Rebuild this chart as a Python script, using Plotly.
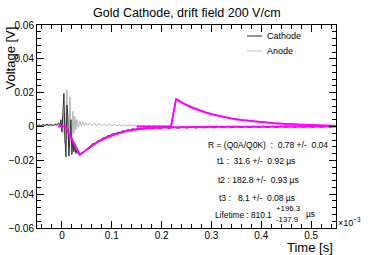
import plotly.graph_objects as go

# ---------------- data (time in units of 1e-3 s, voltage in V) ----------------
cathode_t = [-0.050,-0.046,-0.042,-0.038,-0.034,-0.030,-0.026,-0.022,-0.018,-0.014,-0.010,-0.007,-0.004,-0.002,
             0.000,0.002,0.004,0.006,0.008,0.010,0.012,0.014,0.016,0.018,0.020,0.022,0.024,0.026,0.028,0.030,
             0.033,0.036,0.040,0.044,0.048,0.052,0.057,0.062,0.067,0.072,0.077,0.082,0.087,0.092,0.097,0.102,
             0.107,0.112,0.117,0.122,0.127,0.132,0.137,0.142,0.147,0.152,0.161,0.170,0.179,0.188,0.197,0.206,
             0.215,0.224,0.233,0.242,0.251,0.260,0.269,0.278,0.287,0.296,0.305,0.314,0.323,0.332,0.341,0.350,
             0.359,0.368,0.377,0.386,0.395,0.404,0.413,0.422,0.431,0.440,0.449,0.458,0.467,0.476,0.485,0.494,
             0.503,0.512,0.521,0.530,0.539,0.548]
cathode_v = [0.0004,0.0010,0.0002,0.0012,0.0005,0.0014,0.0006,0.0013,0.0004,0.0016,0.0008,0.0022,0.0006,0.0040,
             -0.0030,0.0120,0.0196,-0.0060,-0.0180,0.0127,0.0060,-0.0175,-0.0020,0.0040,-0.0165,-0.0080,-0.0150,-0.0100,-0.0160,-0.0140,
             -0.0165,-0.0160,-0.0158,-0.0150,-0.0138,-0.0128,-0.0118,-0.0102,-0.0098,-0.0085,-0.0080,-0.0068,-0.0065,-0.0054,-0.0052,-0.0043,
             -0.0042,-0.0034,-0.0035,-0.0026,-0.0028,-0.0019,-0.0022,-0.0013,-0.0017,-0.0009,-0.0016,-0.0006,-0.0014,-0.0004,-0.0013,-0.0003,
             -0.0012,-0.0002,-0.0011,-0.0002,-0.0010,-0.0001,-0.0010,-0.0001,-0.0009,0.0000,-0.0009,0.0000,-0.0008,0.0001,-0.0008,0.0001,
             -0.0007,0.0001,-0.0007,0.0002,-0.0006,0.0002,-0.0006,0.0002,-0.0006,0.0002,-0.0005,0.0002,-0.0005,0.0002,-0.0005,0.0002,
             -0.0005,0.0002,-0.0005,0.0002,-0.0004,0.0002]

anode_t = [-0.050,-0.046,-0.042,-0.038,-0.034,-0.030,-0.026,-0.022,-0.018,-0.014,-0.010,-0.007,-0.004,-0.002,
           0.000,0.002,0.004,0.006,0.008,0.010,0.012,0.014,0.016,0.018,0.020,0.022,0.024,0.026,0.028,0.030,
           0.033,0.036,0.039,0.042,0.045,0.048,0.052,0.056,0.060,0.065,0.070,0.075,0.080,0.085,0.090,0.095,
           0.100,0.105,0.110,0.115,0.120,0.125,0.130,0.135,0.140,0.145,0.150,0.155,0.160,0.165,0.170,0.175,
           0.180,0.185,0.190,0.195,0.200,0.205,0.210,0.215,0.219,0.229,0.240,0.250,0.262,0.275,0.290,0.305,
           0.320,0.340,0.360,0.380,0.400,0.425,0.450,0.475,0.500,0.525,0.550]
anode_v = [0.0006,0.0002,0.0009,0.0003,0.0010,0.0004,0.0011,0.0005,0.0012,0.0004,0.0013,0.0006,0.0016,0.0004,
           0.0030,-0.0040,0.0080,-0.0100,0.0060,0.0216,-0.0060,-0.0120,0.0176,0.0040,-0.0100,0.0090,-0.0040,0.0060,-0.0020,0.0040,
           -0.0005,0.0030,0.0002,0.0025,0.0005,0.0022,0.0006,0.0020,0.0006,0.0018,0.0005,0.0016,0.0005,0.0015,0.0004,0.0014,
           0.0004,0.0013,0.0003,0.0012,0.0003,0.0011,0.0002,0.0010,0.0002,0.0010,0.0001,0.0009,0.0001,0.0008,0.0000,0.0008,
           0.0000,0.0007,0.0000,0.0007,0.0000,0.0006,0.0000,0.0005,0.0000,0.0168,0.0145,0.0130,0.0114,0.0099,0.0084,0.0071,
           0.0060,0.0049,0.0040,0.0033,0.0027,0.0021,0.0016,0.0012,0.0009,0.0007,0.0005]

cathode_fit_t = [-0.008,0.007,0.036,0.050,0.060,0.073,0.090,0.106,0.126,0.146,0.170,0.200,0.250,0.300,0.400,0.550]
cathode_fit_v = [0.0,0.0,-0.0167,-0.0135,-0.0115,-0.0090,-0.0065,-0.0048,-0.0030,-0.0019,-0.0011,-0.0006,-0.0003,-0.0002,-0.0001,0.0]

anode_fit_t = [0.150,0.219,0.229,0.240,0.250,0.262,0.275,0.290,0.305,0.320,0.340,0.360,0.380,0.400,0.425,0.450,0.475,0.500,0.525,0.550]
anode_fit_v = [0.0,0.0,0.0161,0.0142,0.0127,0.0111,0.0096,0.0081,0.0069,0.0058,0.0047,0.0038,0.0031,0.0025,0.0019,0.0015,0.0011,0.0008,0.0006,0.0004]

x_ticks = [0, 0.1, 0.2, 0.3, 0.4, 0.5]
y_ticks = [-0.06, -0.04, -0.02, 0, 0.02, 0.04, 0.06]

fit_lines = ["R = (Q0A/Q0K)  :  0.78 +/-  0.04",
             "t1 :  31.6 +/-  0.92 µs",
             "t2 : 182.8 +/-  0.93 µs",
             "t3 :   8.1 +/-  0.08 µs"]

FONT = "Liberation Sans, Arial, sans-serif"

fig = go.Figure()
fig.add_trace(go.Scatter(x=anode_t, y=anode_v, mode="lines", line=dict(color="#b4b4b4", width=1), name="Anode"))
fig.add_trace(go.Scatter(x=cathode_t, y=cathode_v, mode="lines", line=dict(color="#303030", width=1), name="Cathode"))
fig.add_trace(go.Scatter(x=cathode_fit_t, y=cathode_fit_v, mode="lines", line=dict(color="#ff00ff", width=2), name="fitK"))
fig.add_trace(go.Scatter(x=anode_fit_t, y=anode_fit_v, mode="lines", line=dict(color="#ff00ff", width=2), name="fitA"))

W, H = 374, 255
L, R, T, B = 37, 38, 25, 27
pw, ph = W - L - R, H - T - B

def px(x):
    return (x - L) / pw

def py(y):
    return (H - B - y) / ph

def note(text, x, y, size, xanchor="center", yanchor="middle", **kw):
    d = dict(text=text, x=px(x), y=py(y), xref="paper", yref="paper", showarrow=False,
             font=dict(size=size, color="black", family=FONT), xanchor=xanchor, yanchor=yanchor)
    d.update(kw)
    return d

ann = [
    note("Gold Cathode, drift field 200 V/cm", 187, 13, 12.5),
    note("Voltage [V]", 10, 25, 13, yanchor="top", textangle=-90),
    note("Time [s]", 335, 247.5, 13, xanchor="right"),
    note("×10<sup>−3</sup>", 336, 222, 9, xanchor="left"),
]
for txt, yy, xc in zip(fit_lines, [145, 161, 180, 198], [268, 256, 258, 257]):
    ann.append(note(txt, xc, yy, 8.5))
ann += [
    note("Lifetime : 810.1", 274, 215, 8.3, xanchor="right"),
    note("+196.3", 274, 208.5, 7.8, xanchor="left"),
    note("-137.9", 274, 219.5, 7.8, xanchor="left"),
    note("µs", 304, 214, 8.3, xanchor="left"),
    note("Cathode", 265, 36, 9, xanchor="left"),
    note("Anode", 265, 51, 9, xanchor="left"),
]

shapes = [
    dict(type="line", xref="paper", yref="paper", x0=px(247), x1=px(262), y0=py(36), y1=py(36),
         line=dict(color="#707070", width=1.5)),
    dict(type="line", xref="paper", yref="paper", x0=px(247), x1=px(262), y0=py(51), y1=py(51),
         line=dict(color="#c0c0c0", width=1)),
]

axis_common = dict(showline=True, linecolor="black", linewidth=1, mirror="allticks", ticks="inside",
                   tickcolor="black", showgrid=False, zeroline=False, automargin=False,
                   tickfont=dict(size=10, color="black", family=FONT))

fig.update_layout(
    width=W, height=H, margin=dict(l=L, r=R, t=T, b=B, pad=0), autosize=False,
    paper_bgcolor="white", plot_bgcolor="white", showlegend=False,
    annotations=ann, shapes=shapes,
    xaxis=dict(range=[-0.05, 0.55], tickvals=x_ticks, ticklen=7, ticklabelstandoff=-2,
               minor=dict(dtick=0.02, tick0=0, ticks="inside", ticklen=4, tickcolor="black"),
               **axis_common),
    yaxis=dict(range=[-0.06, 0.06], tickvals=y_ticks, ticklen=7,
               minor=dict(dtick=0.004, tick0=0, ticks="inside", ticklen=4, tickcolor="black"),
               **axis_common),
)

fig.write_html("out.html", config={"displayModeBar": False},
               post_script="document.body.style.margin='0';document.body.style.padding='0';")
